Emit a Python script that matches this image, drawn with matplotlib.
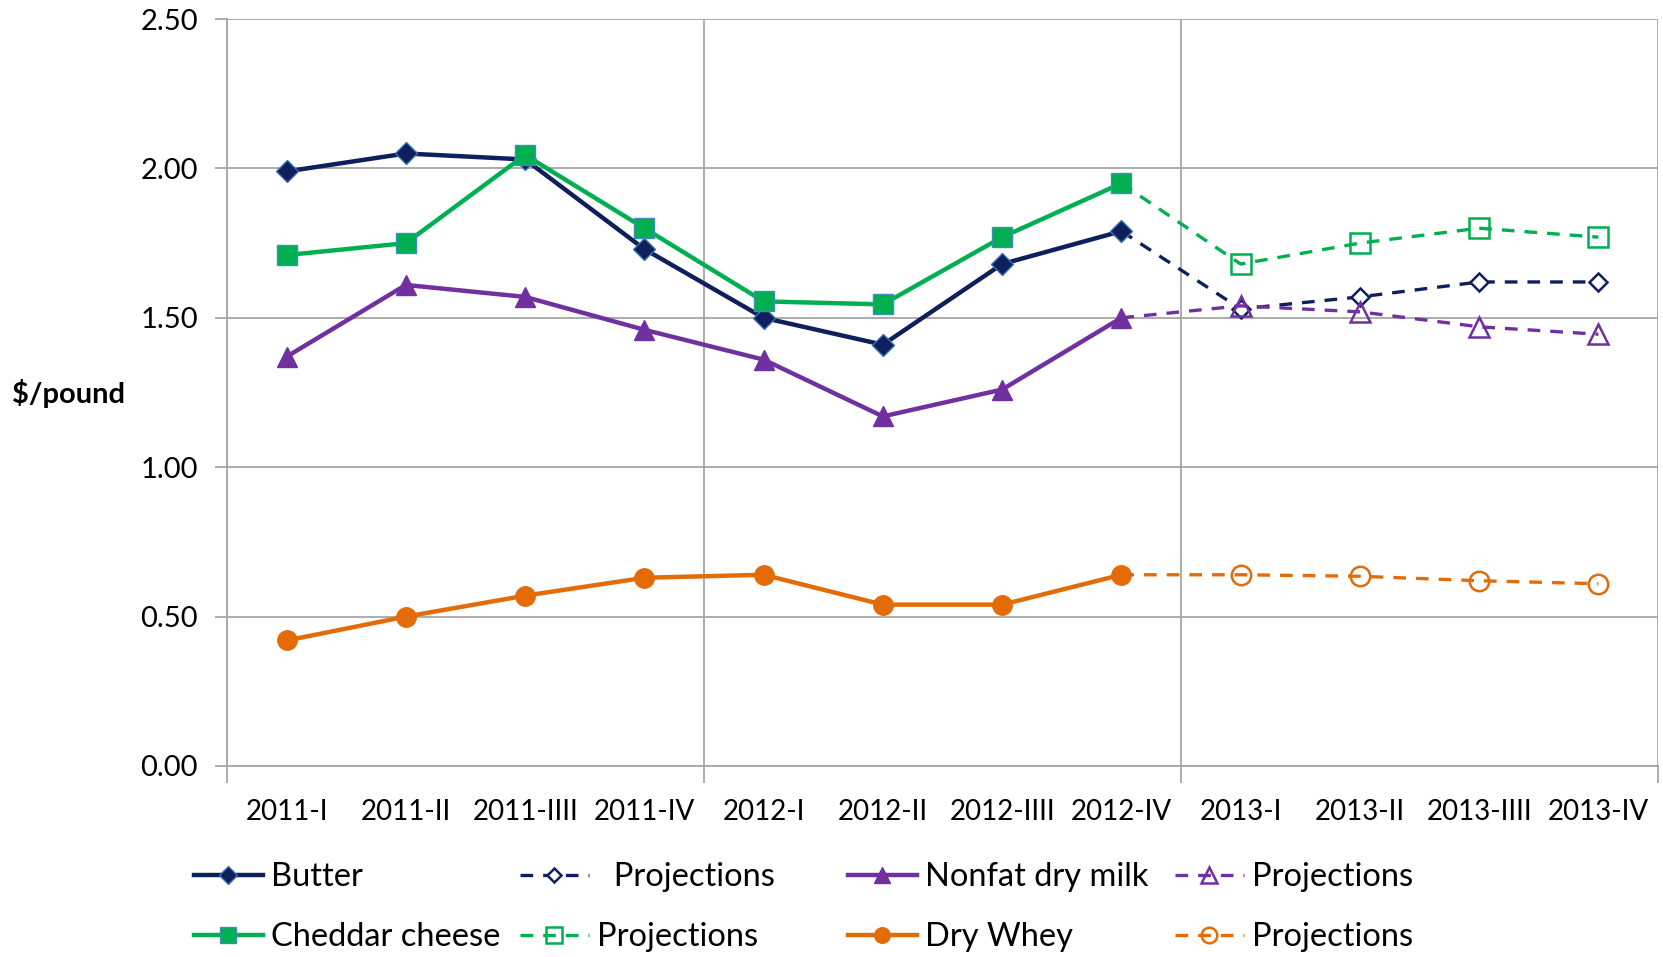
import matplotlib
matplotlib.use("Agg")
import matplotlib.pyplot as plt
from matplotlib.ticker import FixedLocator

plt.rcParams['font.family'] = ['Lato', 'DejaVu Sans']

quarters = ["2011-I", "2011-II", "2011-IIII", "2011-IV", "2012-I", "2012-II",
            "2012-IIII", "2012-IV", "2013-I", "2013-II", "2013-IIII", "2013-IV"]

butter = [1.99, 2.05, 2.03, 1.73, 1.50, 1.41, 1.68, 1.79]
butter_proj = [1.79, 1.53, 1.57, 1.62, 1.62]
cheddar = [1.71, 1.75, 2.045, 1.80, 1.555, 1.545, 1.77, 1.95]
cheddar_proj = [1.95, 1.68, 1.75, 1.80, 1.77]
ndm = [1.37, 1.61, 1.57, 1.46, 1.36, 1.17, 1.26, 1.50]
ndm_proj = [1.50, 1.54, 1.52, 1.47, 1.445]
whey = [0.42, 0.50, 0.57, 0.63, 0.64, 0.54, 0.54, 0.64]
whey_proj = [0.64, 0.64, 0.635, 0.62, 0.61]

yticks = [0.0, 0.5, 1.0, 1.5, 2.0, 2.5]

c_butter = "#0e1f5b"
c_cheddar = "#00b050"
c_ndm = "#7030a0"
c_whey = "#e36c09"

fig = plt.figure(figsize=(16.63, 9.57), dpi=100)
ax = fig.add_axes([0.1365, 0.1996, 0.8605, 0.7805])

xa = list(range(len(butter)))
xp = list(range(len(butter) - 1, len(butter) - 1 + len(butter_proj)))

lw = 3.2
plw = 2.4

h_b, = ax.plot(xa, butter, color=c_butter, lw=lw, marker='D', ms=11,
               mfc=c_butter, mec="#3b6fb0", mew=1.0, zorder=4)
h_c, = ax.plot(xa, cheddar, color=c_cheddar, lw=lw, marker='s', ms=14,
               mfc=c_cheddar, mec="#3d8fb8", mew=1.0, zorder=4)
h_n, = ax.plot(xa, ndm, color=c_ndm, lw=lw, marker='^', ms=15,
               mfc=c_ndm, mec=c_ndm, zorder=4)
h_w, = ax.plot(xa, whey, color=c_whey, lw=lw, marker='o', ms=14,
               mfc=c_whey, mec=c_whey, zorder=4)

dash = (0, (3.8, 3.0))
h_bp, = ax.plot(xp, butter_proj, color=c_butter, lw=plw, ls=dash, marker='D', ms=9,
                mfc='white', mec=c_butter, mew=1.8, markevery=slice(1, None), zorder=3)
h_cp, = ax.plot(xp, cheddar_proj, color=c_cheddar, lw=plw, ls=dash, marker='s', ms=14,
                mfc='none', mec=c_cheddar, mew=1.8, markevery=slice(1, None), zorder=3)
h_np, = ax.plot(xp, ndm_proj, color=c_ndm, lw=plw, ls=dash, marker='^', ms=15,
                mfc='none', mec=c_ndm, mew=1.8, markevery=slice(1, None), zorder=3)
h_wp, = ax.plot(xp, whey_proj, color=c_whey, lw=plw, ls=dash, marker='o', ms=14,
                mfc='none', mec=c_whey, mew=1.8, markevery=slice(1, None), zorder=3)

ax.set_xlim(-0.5, len(quarters) - 0.5)
ax.set_ylim(0, 2.5)
ax.set_yticks(yticks)
ax.set_yticklabels([f"{v:.2f}" for v in yticks])
ax.set_xticks(range(len(quarters)))
ax.set_xticklabels(quarters)
ax.xaxis.set_minor_locator(FixedLocator([-0.5, 3.5, 7.5, 11.5]))

gc = "#a6a6a6"
ax.grid(axis='y', which='major', color=gc, lw=1.3)
ax.grid(axis='x', which='minor', color=gc, lw=1.3)
ax.grid(axis='x', which='major', visible=False)
ax.tick_params(axis='x', which='major', length=0, labelsize=20, pad=24)
ax.tick_params(axis='x', which='minor', length=12, color=gc, width=1.3)
ax.tick_params(axis='y', length=9, color=gc, width=1.3, labelsize=21, pad=12)
for s in ['top', 'right']:
    ax.spines[s].set_visible(False)
for s in ['left', 'bottom']:
    ax.spines[s].set_color(gc)
    ax.spines[s].set_linewidth(1.3)
ax.set_axisbelow(True)

fig.text(0.007, 0.589, "$/pound", fontsize=21, fontweight='bold', va='center', ha='left')

columns = [
    ([h_b, h_c], ["Butter", "Cheddar cheese"], 0.1167),
    ([h_bp, h_cp], ["  Projections", "Projections"], 0.3127),
    ([h_n, h_w], ["Nonfat dry milk", "Dry Whey"], 0.510),
    ([h_np, h_wp], ["Projections", "Projections"], 0.7066),
]
for hs, ls_, xpos in columns:
    lg = fig.legend(hs, ls_, loc='center left', bbox_to_anchor=(xpos, 0.0522),
                    frameon=False, fontsize=23.5, handlelength=2.1,
                    handletextpad=0.25, labelspacing=0.92, markerscale=0.8,
                    borderpad=0, borderaxespad=0)

fig.savefig("out.png", dpi=100)
